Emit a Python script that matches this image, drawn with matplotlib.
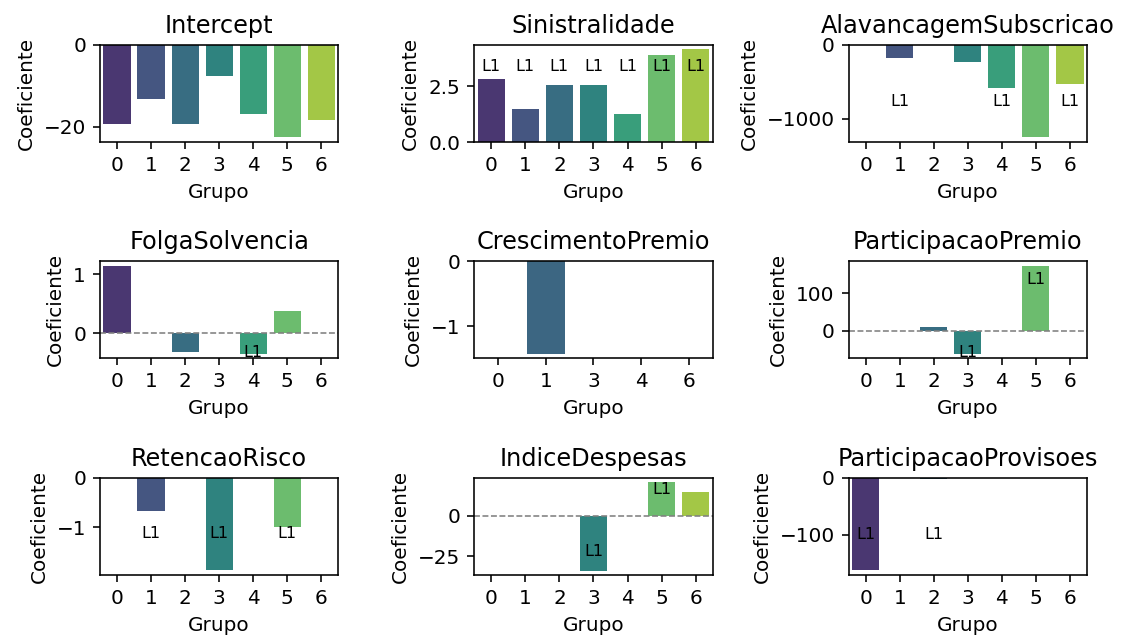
import numpy as np
import matplotlib as mpl
mpl.use("Agg")
import matplotlib.pyplot as plt
import seaborn as sns

variaveis=["Intercept","Sinistralidade","AlavancagemSubscricao",
           "FolgaSolvencia","CrescimentoPremio","ParticipacaoPremio",
           "RetencaoRisco","IndiceDespesas","ParticipacaoProvisoes"]
grupos_all=[0,1,2,3,4,5,6]
grupos_cresc=[0,1,3,4,6]

intercept=[-19.3,-13.2,-19.3,-7.6,-16.9,-22.6,-18.3]
sinistralidade=[2.82,1.50,2.55,2.55,1.27,3.89,4.15]
alavancagem=[0,-173,0,-236,-582,-1250,-523]
folga=[1.14,0,-0.32,0,-0.35,0.38,0]
crescimento=[0,-1.43,0,0,0]
part_premio=[0,0,8.9,-62.5,0,174,0]
retencao=[0,-0.68,0,-1.88,0,-0.99,0]
despesas=[0,0,0,-33.9,0,20.8,14.6]
part_provisoes=[-162.5,0,-3,0,0,0,0]

# L1 flags: (grupo, y of label)
l1_sinist=[(0,3.37),(1,3.37),(2,3.37),(3,3.37),(4,3.37),(5,3.37),(6,3.37)]
l1_alav=[(1,-764),(4,-764),(6,-764)]
l1_folga=[(4,-0.32)]
l1_premio=[(3,-58),(5,138)]
l1_reten=[(1,-1.14),(3,-1.14),(5,-1.14)]
l1_desp=[(3,-22.3),(5,16)]
l1_prov=[(0,-100),(2,-100)]

dados=[(grupos_all,intercept,[]),(grupos_all,sinistralidade,l1_sinist),
       (grupos_all,alavancagem,l1_alav),(grupos_all,folga,l1_folga),
       (grupos_cresc,crescimento,[]),(grupos_all,part_premio,l1_premio),
       (grupos_all,retencao,l1_reten),(grupos_all,despesas,l1_desp),
       (grupos_all,part_provisoes,l1_prov)]

fig,axes=plt.subplots(3,3,figsize=(1124/144,640/144),dpi=144)
for ax,nome,(gr,vals,l1) in zip(axes.flat,variaveis,dados):
   xs=[str(g) for g in gr]
   sns.barplot(x=xs,y=vals,hue=xs,palette="viridis",legend=False,ax=ax)
   if min(vals)<0<max(vals):
      ax.axhline(0,color="gray",linestyle="--",linewidth=0.8)
   for g,yl in l1:
      ax.text(xs.index(str(g)),yl,"L1",ha="center",va="center",fontsize=8)
   ax.set_title(nome,fontsize=12)
   ax.set_xlabel("Grupo")
   ax.set_ylabel("Coeficiente")
plt.subplots_adjust(left=0.089,right=0.967,top=0.930,bottom=0.1016,wspace=0.571,hspace=1.227)
plt.savefig("out.png")
